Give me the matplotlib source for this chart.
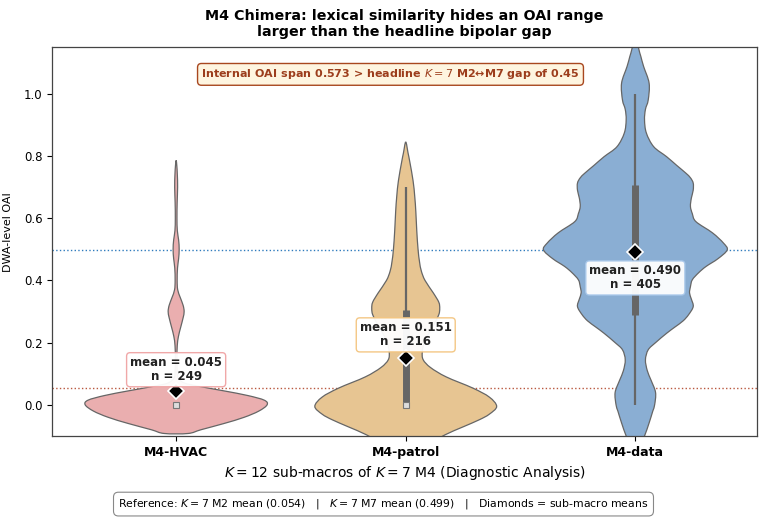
import numpy as np
import matplotlib
matplotlib.use("Agg")
import matplotlib.pyplot as plt
from matplotlib.path import Path
from matplotlib.patches import PathPatch

# sub-macro names and summary numbers
groups = ["M4-HVAC", "M4-patrol", "M4-data"]
means = [0.045, 0.151, 0.490]
counts = [249, 216, 405]
q1 = [0.0, 0.0, 0.29]
q3 = [0.004, 0.305, 0.707]
medians = [0.0, 0.0, 0.50]
whisk_lo = [0.0, 0.0, 0.0]
whisk_hi = [0.004, 0.70, 1.0]

# density outlines (OAI value, relative half-width)
hvac_y = [-0.092, -0.08, -0.06, -0.04, -0.02, 0.0, 0.015, 0.03, 0.045, 0.06, 0.07,
          0.085, 0.10, 0.15, 0.19, 0.22, 0.25, 0.28, 0.30, 0.32, 0.345, 0.37, 0.40,
          0.44, 0.47, 0.50, 0.53, 0.56, 0.60, 0.65, 0.70, 0.74, 0.77, 0.786]
hvac_w = [0.13, 0.27, 0.52, 0.74, 0.90, 0.99, 0.96, 0.78, 0.52, 0.24, 0.09,
          0.025, 0.012, 0.009, 0.012, 0.025, 0.05, 0.076, 0.087, 0.076, 0.045, 0.017, 0.011,
          0.015, 0.027, 0.033, 0.027, 0.013, 0.009, 0.011, 0.016, 0.013, 0.007, 0.0]

patrol_y = [-0.15, -0.12, -0.096, -0.07, -0.048, -0.03, -0.005, 0.025, 0.054, 0.09,
            0.12, 0.145, 0.17, 0.20, 0.23, 0.26, 0.29, 0.31, 0.33, 0.36, 0.40, 0.43,
            0.46, 0.50, 0.56, 0.62, 0.67, 0.72, 0.78, 0.81, 0.845]
patrol_w = [0.16, 0.30, 0.43, 0.63, 0.80, 0.91, 0.99, 0.91, 0.73, 0.44,
            0.27, 0.19, 0.18, 0.20, 0.25, 0.31, 0.36, 0.37, 0.36, 0.30, 0.21, 0.17,
            0.15, 0.134, 0.12, 0.11, 0.098, 0.08, 0.045, 0.025, 0.0]

data_y = [-0.16, -0.14, -0.1, -0.058, -0.02, 0.0, 0.04, 0.08, 0.11, 0.145, 0.177, 0.2,
          0.23, 0.25, 0.27, 0.29, 0.316, 0.34, 0.36, 0.38, 0.402, 0.425, 0.445, 0.47,
          0.498, 0.52, 0.553, 0.589, 0.615, 0.638, 0.665, 0.69, 0.713, 0.73, 0.745,
          0.77, 0.798, 0.83, 0.874, 0.916, 0.95, 0.98, 1.034, 1.088, 1.12, 1.147, 1.2]
data_w = [0.0, 0.04, 0.10, 0.15, 0.19, 0.21, 0.22, 0.17, 0.13, 0.11, 0.14, 0.22,
          0.34, 0.43, 0.52, 0.58, 0.63, 0.61, 0.59, 0.60, 0.62, 0.69, 0.77, 0.90,
          1.0, 0.96, 0.84, 0.66, 0.62, 0.60, 0.61, 0.63, 0.63, 0.60, 0.55,
          0.45, 0.34, 0.20, 0.12, 0.10, 0.11, 0.14, 0.15, 0.09, 0.06, 0.035, 0.0]

profiles = [(hvac_y, hvac_w), (patrol_y, patrol_w), (data_y, data_w)]

fill_colors = ["#EAAEAF", "#E7C592", "#8AAED3"]
edge_colors = ["#F0A3A4", "#F3C47E", "#A9C8EA"]
m2_mean = 0.054
m7_mean = 0.499


def violin_path(center, ys, ws, half=0.4):
    # closed outline, drawn with smooth bezier segments through the read points
    ys = np.asarray(ys, float)
    ws = np.asarray(ws, float) * half
    right = [(center + w, y) for y, w in zip(ys, ws)]
    left = [(center - w, y) for y, w in zip(ys[::-1], ws[::-1])]
    if ws[-1] == 0:
        left = left[1:]
    pts = np.array(right + left)
    n = len(pts)
    verts = [pts[0]]
    codes = [Path.MOVETO]
    for k in range(n):
        p0, p1, p2, p3 = pts[k - 1], pts[k], pts[(k + 1) % n], pts[(k + 2) % n]
        verts += [p1 + (p2 - p0) / 6.0, p2 - (p3 - p1) / 6.0, p2]
        codes += [Path.CURVE4] * 3
    return Path(verts, codes)


fig = plt.figure(figsize=(7.67, 5.24), dpi=100)
ax = fig.add_axes([0.068, 0.168, 0.919, 0.742])

ax.axhline(m7_mean, color="#2f7bbd", ls=":", lw=1.0, zorder=1)
ax.axhline(m2_mean, color="#b9583f", ls=":", lw=1.0, zorder=1)

for i, (ys, ws) in enumerate(profiles):
    ax.add_patch(PathPatch(violin_path(i, ys, ws), facecolor=fill_colors[i],
                           edgecolor="#666666", lw=0.9, zorder=2))
    # inner box
    ax.plot([i, i], [whisk_lo[i], whisk_hi[i]], color="#666666", lw=1.6,
            solid_capstyle="butt", zorder=3)
    ax.plot([i, i], [q1[i], q3[i]], color="#666666", lw=5,
            solid_capstyle="butt", zorder=3)
    ax.plot(i, medians[i], marker="s", ms=4, mfc="#dddddd", mec="#777777",
            mew=0.8, zorder=4)
    ax.plot(i, means[i], marker="D", ms=8, mfc="black", mec="white",
            mew=1.2, zorder=6)

label_offsets = [0.068, 0.074, -0.082]
for i in range(3):
    ax.text(i, means[i] + label_offsets[i], f"mean = {means[i]:.3f}\nn = {counts[i]}",
            ha="center", va="center", fontsize=8.5, fontweight="bold",
            color="#222222", linespacing=1.1, zorder=7,
            bbox=dict(boxstyle="round,pad=0.3", fc="white", ec=edge_colors[i],
                      lw=1.0, alpha=0.95))

ax.text(0.48, 0.93,
        "Internal OAI span 0.573 > headline $K = 7$ M2\u2194M7 gap of 0.45",
        transform=ax.transAxes, ha="center", va="center", fontsize=8,
        fontweight="bold", color="#9c3d1c", zorder=8,
        bbox=dict(boxstyle="round,pad=0.35", fc="#FEF5E0", ec="#A8471F", lw=1.0))

ax.set_xlim(-0.54, 2.53)
ax.set_ylim(-0.1, 1.15)
ax.set_xticks(range(3))
ax.set_xticklabels(groups, fontsize=9, fontweight="bold")
ax.set_yticks([0.0, 0.2, 0.4, 0.6, 0.8, 1.0])
ax.tick_params(axis="y", labelsize=8.5)
ax.set_ylabel("DWA-level OAI", fontsize=8)
ax.yaxis.set_label_coords(-0.055, 0.525)
ax.set_xlabel("$K = 12$ sub-macros of $K = 7$ M4 (Diagnostic Analysis)", fontsize=10)
for s in ax.spines.values():
    s.set_color("#444444")
    s.set_linewidth(0.9)

ax.set_title("M4 Chimera: lexical similarity hides an OAI range\n"
             "larger than the headline bipolar gap",
             fontsize=10.3, fontweight="bold", pad=8)

fig.text(0.5, 0.038,
         "Reference: $K = 7$ M2 mean (0.054)   |   $K = 7$ M7 mean (0.499)   |   "
         "Diamonds = sub-macro means",
         ha="center", va="center", fontsize=7.8,
         bbox=dict(boxstyle="round,pad=0.45", fc="white", ec="#888888", lw=0.8))

fig.savefig("out.png", dpi=100)
